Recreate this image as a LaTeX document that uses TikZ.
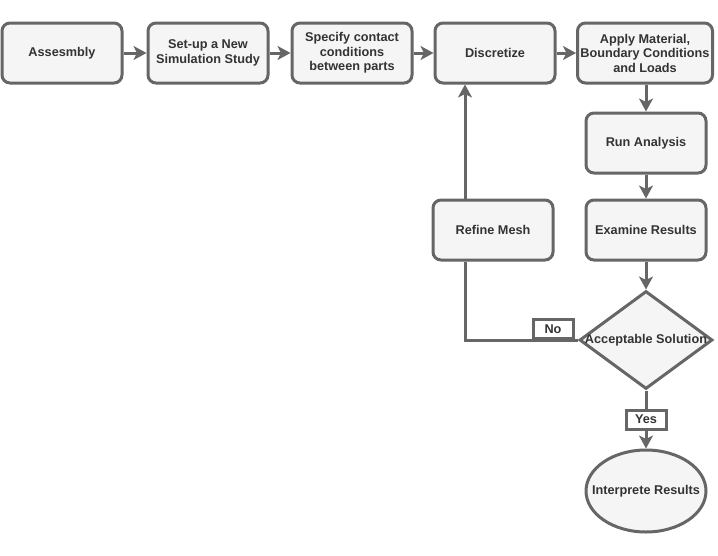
\documentclass[tikz,border=0pt]{standalone}
\usepackage{fontspec}
\setmainfont{Liberation Sans}
\usetikzlibrary{shapes.geometric,arrows.meta}
\definecolor{ln}{HTML}{666666}
\definecolor{fl}{HTML}{F5F5F5}
\definecolor{tx}{HTML}{333333}
\begin{document}
\begin{tikzpicture}[x=1pt,y=-1pt,
  every node/.style={font=\fontsize{12.7}{14.5}\selectfont\bfseries, text=tx, align=center},
  box/.style={draw=ln, line width=3pt, fill=fl, rounded corners=8pt, minimum width=120pt, minimum height=60pt, inner sep=1pt},
  dia/.style={draw=ln, line width=3pt, fill=fl, diamond, minimum width=133pt, minimum height=98pt, inner sep=0pt, aspect=1.36},
  ell/.style={draw=ln, line width=3pt, fill=fl, ellipse, minimum width=120pt, minimum height=82pt, inner sep=0pt},
  lab/.style={draw=ln, line width=3pt, fill=white, minimum width=40pt, minimum height=19pt, inner sep=1pt},
  arr/.style={draw=ln, line width=3pt, -{Stealth[length=13pt,width=14pt,inset=3.5pt]}},
  ln/.style={draw=ln, line width=3pt}]
\useasboundingbox (0,0) rectangle (718,555);
\node[box] (a) at (62,53) {Assesmbly};
\node[box] (b) at (208,53) {Set-up a New\\Simulation Study};
\node[box] (c) at (352,53) {Specify contact\\conditions\\between parts};
\node[box] (d) at (495,53) {Discretize};
\node[box, minimum width=135pt] (e) at (645,53) {Apply Material,\\Boundary Conditions\\and Loads};
\node[box] (f) at (646,143) {Run Analysis};
\node[box] (g) at (646,230) {Examine Results};
\node[box] (r) at (493,230) {Refine Mesh};
\node[dia] (h) at (646,340) {};
\node (ht) at (646,340) {Acceptable Solution};
\node[ell] (i) at (646,491) {};
\node (it) at (646,491) {Interprete Results};
\coordinate (k1) at (465,340);
\draw[arr] (a) -- (b);
\draw[arr] (b) -- (c);
\draw[arr] (c) -- (d);
\draw[arr] (d) -- (e);
\draw[arr] (e.south -| f) -- (f);
\draw[arr] (f) -- (g);
\draw[arr] (g) -- (h);
\draw[arr] (h) -- node[lab] (yes) {Yes} (i);
\draw[ln] (h.west) -- (k1) -- (k1 |- r.south);
\draw[arr] (k1 |- r.north) -- (k1 |- d.south);
\node[lab, anchor=south] (no) at (553,340) {No};
\end{tikzpicture}
\end{document}
